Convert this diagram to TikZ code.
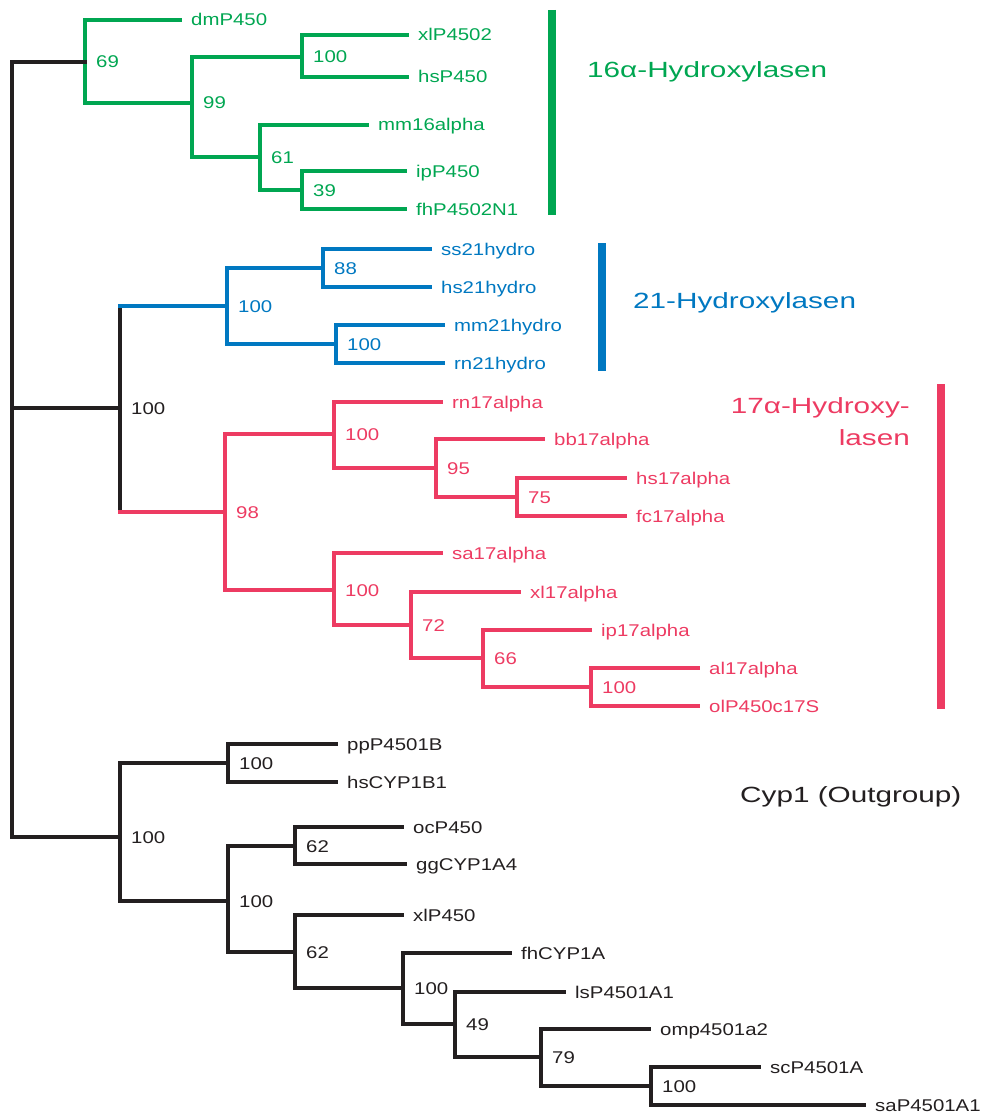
\documentclass[tikz,border=0pt]{standalone}
\usepackage{fontspec}
\setmainfont[FakeStretch=1.2]{Liberation Sans}
\newfontfamily\groupfont[FakeStretch=1.35]{Liberation Sans}
\usetikzlibrary{positioning}

\definecolor{gcol}{RGB}{0,166,81}
\definecolor{bcol}{RGB}{0,120,193}
\definecolor{rcol}{RGB}{237,59,98}
\definecolor{kcol}{RGB}{35,31,32}

\tikzset{
  br/.style={line width=3.5pt, line cap=rect},
  leaf/.style={anchor=west, inner xsep=11pt, inner ysep=0pt, text height=12pt, text depth=0pt, font=\fontsize{17}{20}\selectfont},
  boot/.style={anchor=west, inner sep=0pt, text height=12pt, text depth=0pt, font=\fontsize{17}{20}\selectfont},
  group/.style={inner sep=0pt, font=\groupfont\fontsize{22}{32}\selectfont},
  bar/.style={line width=8pt}
}

\begin{document}
\begin{tikzpicture}[x=1pt,y=-1pt]
\useasboundingbox (0,0) rectangle (993,1113);

% inner nodes of the tree
\coordinate (root) at (12,408);
\coordinate (g69) at (85,62);
\coordinate (g99) at (192,103);
\coordinate (gA) at (302,57);
\coordinate (g61) at (260,157);
\coordinate (g39) at (302,190);
\coordinate (m100) at (120,408);
\coordinate (b100) at (227,306);
\coordinate (b88) at (323,268);
\coordinate (bB) at (336,344);
\coordinate (r98) at (225,512);
\coordinate (rA) at (334,434);
\coordinate (r95) at (436,468);
\coordinate (r75) at (517,497);
\coordinate (rB) at (334,590);
\coordinate (r72) at (411,625);
\coordinate (r66) at (483,658);
\coordinate (rC) at (591,687);
\coordinate (o100) at (120,837);
\coordinate (oA) at (228,763);
\coordinate (oB) at (228,901);
\coordinate (o62a) at (295,846);
\coordinate (o62b) at (295,952);
\coordinate (o100c) at (403,988);
\coordinate (o49) at (455,1024);
\coordinate (o79) at (541,1057);
\coordinate (o100d) at (651,1086);

% leaves
\begin{scope}[gcol]
\node[leaf] (dm) at (180,20) {dmP450};
\node[leaf] (xl2) at (407,35) {xlP4502};
\node[leaf] (hsg) at (407,77) {hsP450};
\node[leaf] (mm16) at (367,125) {mm16alpha};
\node[leaf] (ipg) at (405,171) {ipP450};
\node[leaf] (fhg) at (405,209) {fhP4502N1};
\end{scope}
\begin{scope}[bcol]
\node[leaf] (ss21) at (430,249) {ss21hydro};
\node[leaf] (hs21) at (430,287) {hs21hydro};
\node[leaf] (mm21) at (443,325) {mm21hydro};
\node[leaf] (rn21) at (443,363) {rn21hydro};
\end{scope}
\begin{scope}[rcol]
\node[leaf] (rn17) at (441,402) {rn17alpha};
\node[leaf] (bb17) at (543,439) {bb17alpha};
\node[leaf] (hs17) at (625,478) {hs17alpha};
\node[leaf] (fc17) at (625,516) {fc17alpha};
\node[leaf] (sa17) at (441,553) {sa17alpha};
\node[leaf] (xl17) at (519,592) {xl17alpha};
\node[leaf] (ip17) at (590,630) {ip17alpha};
\node[leaf] (al17) at (698,668) {al17alpha};
\node[leaf] (ol17) at (698,706) {olP450c17S};
\end{scope}
\begin{scope}[kcol]
\node[leaf] (pp) at (336,744) {ppP4501B};
\node[leaf] (hs1) at (336,782) {hsCYP1B1};
\node[leaf] (oc) at (402,827) {ocP450};
\node[leaf] (gg) at (405,864) {ggCYP1A4};
\node[leaf] (xlp) at (402,915) {xlP450};
\node[leaf] (fh1) at (510,953) {fhCYP1A};
\node[leaf] (ls) at (564,992) {lsP4501A1};
\node[leaf] (om) at (649,1029) {omp4501a2};
\node[leaf] (sc) at (759,1067) {scP4501A};
\node[leaf] (sa) at (864,1105) {saP4501A1};
\end{scope}

% verticals
\foreach \nd/\ta/\tb in {root/g69/o100, m100/b100/r98, o100/oA/oB, oA/pp/hs1, oB/o62a/o62b,
    o62a/oc/gg, o62b/xlp/o100c, o100c/fh1/o49, o49/ls/o79, o79/om/o100d, o100d/sc/sa}
  \draw[br,kcol] (\nd |- \ta) -- (\nd |- \tb);
\foreach \nd/\ta/\tb in {g69/dm/g99, g99/gA/g61, gA/xl2/hsg, g61/mm16/g39, g39/ipg/fhg}
  \draw[br,gcol] (\nd |- \ta) -- (\nd |- \tb);
\foreach \nd/\ta/\tb in {b100/b88/bB, b88/ss21/hs21, bB/mm21/rn21}
  \draw[br,bcol] (\nd |- \ta) -- (\nd |- \tb);
\foreach \nd/\ta/\tb in {r98/rA/rB, rA/rn17/r95, r95/bb17/r75, r75/hs17/fc17, rB/sa17/r72,
    r72/xl17/r66, r66/ip17/rC, rC/al17/ol17}
  \draw[br,rcol] (\nd |- \ta) -- (\nd |- \tb);

% horizontals
\foreach \pa/\ch in {root/g69, root/m100, root/o100, o100/oA, o100/oB, oA/pp, oA/hs1,
    oB/o62a, oB/o62b, o62a/oc, o62a/gg, o62b/xlp, o62b/o100c, o100c/fh1, o100c/o49,
    o49/ls, o49/o79, o79/om, o79/o100d, o100d/sc, o100d/sa}
  \draw[br,kcol] (\pa |- \ch) -- (\ch);
\foreach \pa/\ch in {g69/dm, g69/g99, g99/gA, g99/g61, gA/xl2, gA/hsg, g61/mm16, g61/g39,
    g39/ipg, g39/fhg}
  \draw[br,gcol] (\pa |- \ch) -- (\ch);
\foreach \pa/\ch in {m100/b100, b100/b88, b100/bB, b88/ss21, b88/hs21, bB/mm21, bB/rn21}
  \draw[br,bcol] (\pa |- \ch) -- (\ch);
\foreach \pa/\ch in {m100/r98, r98/rA, r98/rB, rA/rn17, rA/r95, r95/bb17, r95/r75,
    r75/hs17, r75/fc17, rB/sa17, rB/r72, r72/xl17, r72/r66, r66/ip17, r66/rC, rC/al17, rC/ol17}
  \draw[br,rcol] (\pa |- \ch) -- (\ch);

% bootstrap values
\foreach \nd/\v in {g69/69, g99/99, gA/100, g61/61, g39/39}
  \node[boot,gcol,right=11pt of \nd] (t\nd) {\v};
\foreach \nd/\v in {b100/100, b88/88, bB/100}
  \node[boot,bcol,right=11pt of \nd] (t\nd) {\v};
\foreach \nd/\v in {r98/98, rA/100, r95/95, r75/75, rB/100, r72/72, r66/66, rC/100}
  \node[boot,rcol,right=11pt of \nd] (t\nd) {\v};
\foreach \nd/\v in {m100/100, o100/100, oA/100, oB/100, o62a/62, o62b/62, o100c/100,
    o49/49, o79/79, o100d/100}
  \node[boot,kcol,right=11pt of \nd] (t\nd) {\v};

% groups
\draw[bar,gcol] (552,10) -- (552,215);
\draw[bar,bcol] (602,243) -- (602,371);
\draw[bar,rcol] (941,384) -- (941,709);
\node[group,gcol,anchor=west] (hyd16) at (587,72) {16α-Hydroxylasen};
\node[group,bcol,anchor=west] (hyd21) at (633,303) {21-Hydroxylasen};
\node[group,rcol,anchor=east,align=right] (hyd17) at (910,422) {17α-Hydroxy-\\lasen};
\node[group,kcol,anchor=west] (cyp1) at (740,797) {Cyp1 (Outgroup)};

\end{tikzpicture}
\end{document}
